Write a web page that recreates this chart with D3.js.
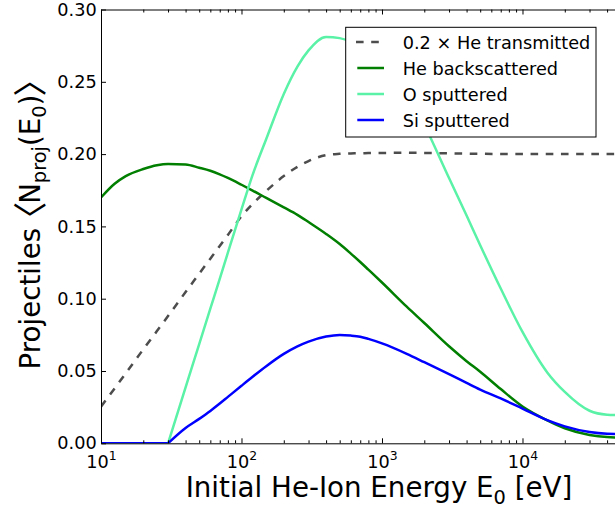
<!DOCTYPE html>
<html><head><meta charset="utf-8">
<script src="https://cdn.jsdelivr.net/npm/d3@7"></script>
<style>
html,body{margin:0;padding:0;background:#fff;}
svg{display:block;}
text{font-family:"DejaVu Sans";fill:#000;}
</style></head><body>
<svg id="chart" width="615" height="510"></svg>
<script>
// ---- data ----
const energies = [10, 12.5, 15, 20, 25, 30, 40, 50, 60, 70, 80, 100, 120, 150, 200, 250, 300, 400, 500, 600, 700, 800, 1000, 1500, 2000, 3000, 4000, 5000, 7000, 10000, 15000, 20000, 30000, 40000, 50000];
const heTransmitted02 = [0.0253, 0.038, 0.0484, 0.065, 0.0776, 0.088, 0.1046, 0.1173, 0.1277, 0.1365, 0.1441, 0.157, 0.1655, 0.1745, 0.1848, 0.1912, 0.1952, 0.1993, 0.2002, 0.2005, 0.2006, 0.2007, 0.2008, 0.2009, 0.2008, 0.2005, 0.2003, 0.2002, 0.2001, 0.2, 0.2, 0.2, 0.2, 0.2, 0.2];
const heBackscattered = [0.170, 0.1795, 0.1848, 0.1897, 0.1923, 0.1932, 0.1928, 0.1906, 0.1885, 0.186, 0.1835, 0.1788, 0.1748, 0.1697, 0.1632, 0.158, 0.153, 0.1448, 0.1378, 0.1312, 0.1254, 0.1201, 0.1112, 0.0945, 0.0832, 0.0671, 0.0568, 0.0495, 0.0375, 0.0255, 0.0159, 0.0104, 0.0058, 0.0043, 0.0040];
const oSputtered = [0, 0, 0, 0, 0, 0, 0.0387, 0.0686, 0.0931, 0.1137, 0.1318, 0.1617, 0.1856, 0.2104, 0.2416, 0.2605, 0.2717, 0.281, 0.2802, 0.2775, 0.2735, 0.2695, 0.262, 0.2445, 0.2205, 0.1835, 0.1575, 0.137, 0.107, 0.077, 0.049, 0.0355, 0.0225, 0.0198, 0.0195];
const siSputtered = [0, 0, 0, 0, 0, 0, 0.0106, 0.0169, 0.0224, 0.0275, 0.0321, 0.0398, 0.046, 0.0533, 0.0618, 0.067, 0.0703, 0.0738, 0.0749, 0.0745, 0.0737, 0.0722, 0.0691, 0.0619, 0.0561, 0.0478, 0.0418, 0.0372, 0.031, 0.024, 0.016, 0.0117, 0.0078, 0.0066, 0.0064];
const seriesNames = ["0.2 \u00d7 He transmitted", "He backscattered", "O sputtered", "Si sputtered"];
const seriesColors = ["#4d4d4d", "#007f00", "#5af2a6", "#0000ff"];
const yTicks = [0, 0.05, 0.10, 0.15, 0.20, 0.25, 0.30];
const xMajorTicks = [10, 100, 1000, 10000];
const xMajorExponents = ["1", "2", "3", "4"];

// ---- layout ----
const svg = d3.select("#chart");
const L = 101, R = 620.7, T = 9.5, B = 443.3;
const x = d3.scaleLog().domain([10, 50000]).range([L, R]);
const y = d3.scaleLinear().domain([0, 0.30]).range([B, T]);

const xMinorTicks = [];
[10, 100, 1000, 10000].forEach(d => { for (let m = 2; m <= 9; m++) { if (m * d <= 50000) xMinorTicks.push(m * d); } });

svg.append("defs").append("clipPath").attr("id", "plotclip")
  .append("rect").attr("x", L).attr("y", T).attr("width", R - L).attr("height", B - T);

// ---- lines ----
const allSeries = [heTransmitted02, heBackscattered, oSputtered, siSputtered];
const line = d3.line().x(d => x(d[0])).y(d => y(d[1])).curve(d3.curveMonotoneX);
const plot = svg.append("g").attr("clip-path", "url(#plotclip)");
allSeries.forEach((vals, i) => {
  const pts = energies.map((e, j) => [e, vals[j]]);
  let k = 0;
  while (k < vals.length - 1 && vals[k] === 0 && vals[k + 1] === 0) k++;
  const parts = k > 0 ? [pts.slice(0, k + 1), pts.slice(k)] : [pts];
  const g = plot.append("g");
  parts.forEach(part => {
    const p = g.append("path").datum(part)
      .attr("d", line)
      .attr("fill", "none")
      .attr("stroke", seriesColors[i])
      .attr("stroke-width", 2.5)
      .attr("stroke-linejoin", "round");
    if (i === 0) p.attr("stroke-dasharray", "7.6,7.6");
  });
});

// ---- axes ----
function styleAxis(g) {
  g.selectAll("path.domain").attr("stroke", "#000").attr("stroke-width", 1);
  g.selectAll(".tick line").attr("stroke", "#000").attr("stroke-width", 1);
}
const gb = svg.append("g").attr("transform", `translate(0,${B})`)
  .call(d3.axisBottom(x).tickValues(xMajorTicks).tickSize(-5).tickSizeOuter(0).tickFormat(""));
styleAxis(gb);
gb.selectAll(".tick text").each(function (d, i) {
  const t = d3.select(this);
  t.attr("y", 25).attr("dy", null).style("font-size", "17.7px").attr("font-family", "DejaVu Sans");
  t.append("tspan").text("10");
  t.append("tspan").attr("dy", -8).style("font-size", "12.4px").text(xMajorExponents[i]);
});
const gbm = svg.append("g").attr("transform", `translate(0,${B})`)
  .call(d3.axisBottom(x).tickValues(xMinorTicks).tickSize(-3).tickSizeOuter(0).tickFormat(""));
styleAxis(gbm); gbm.select("path.domain").remove();

const gt = svg.append("g").attr("transform", `translate(0,${T})`)
  .call(d3.axisTop(x).tickValues(xMajorTicks).tickSize(-5).tickSizeOuter(0).tickFormat(""));
styleAxis(gt);
const gtm = svg.append("g").attr("transform", `translate(0,${T})`)
  .call(d3.axisTop(x).tickValues(xMinorTicks).tickSize(-3).tickSizeOuter(0).tickFormat(""));
styleAxis(gtm); gtm.select("path.domain").remove();

const gl = svg.append("g").attr("transform", `translate(${L},0)`)
  .call(d3.axisLeft(y).tickValues(yTicks).tickSize(-5).tickSizeOuter(0).tickPadding(4.3).tickFormat(d3.format(".2f")));
styleAxis(gl);
gl.selectAll(".tick text").style("font-size", "17.7px").attr("font-family", "DejaVu Sans");

const gr = svg.append("g").attr("transform", `translate(${R},0)`)
  .call(d3.axisRight(y).tickValues(yTicks).tickSize(-5).tickSizeOuter(0).tickFormat(""));
styleAxis(gr);

// ---- axis labels ----
const xl = svg.append("text").attr("x", 379).attr("y", 497).attr("text-anchor", "middle")
  .style("font-size", "27.7px").style("white-space", "pre");
xl.append("tspan").text("Initial He-Ion Energy E");
xl.append("tspan").attr("dy", 6.5).style("font-size", "19.4px").text("0");
xl.append("tspan").attr("dy", -6.5).text(" [eV]");

const yl = svg.append("text").attr("transform", `translate(40,216) rotate(-90)`).attr("text-anchor", "middle")
  .style("font-size", "27.7px").style("white-space", "pre");
yl.append("tspan").text("Projectiles");
yl.append("tspan").attr("dy", 3).attr("dx", -8).style("font-size", "34px").style("font-family", "'Noto Sans CJK JP'").text("\u3008");
yl.append("tspan").attr("dy", -3).attr("dx", -2).text("N");
yl.append("tspan").attr("dy", 6).style("font-size", "19.4px").text("proj");
yl.append("tspan").attr("dy", -6).text("(E");
yl.append("tspan").attr("dy", 6).style("font-size", "19.4px").text("0");
yl.append("tspan").attr("dy", -6).text(")");
yl.append("tspan").attr("dy", 3).attr("dx", -2).style("font-size", "34px").style("font-family", "'Noto Sans CJK JP'").text("\u3009");

// ---- legend ----
const lg = svg.append("g");
lg.append("rect").attr("x", 345.7).attr("y", 27.3).attr("width", 250.3).attr("height", 109.7)
  .attr("fill", "#fff").attr("stroke", "#000").attr("stroke-width", 1);
const rowY = [42, 68, 94, 120];
seriesNames.forEach((name, i) => {
  const l = lg.append("line").attr("x1", 357.3).attr("x2", 384).attr("y1", rowY[i]).attr("y2", rowY[i])
    .attr("stroke", seriesColors[i]).attr("stroke-width", 2.5);
  if (i === 0) l.attr("stroke-dasharray", "7.6,7.6").attr("x1", 356).attr("x2", 386);
  lg.append("text").attr("x", 402.7).attr("y", rowY[i] + 6.5).style("font-size", "17.7px").text(name);
});
</script>
</body></html>
